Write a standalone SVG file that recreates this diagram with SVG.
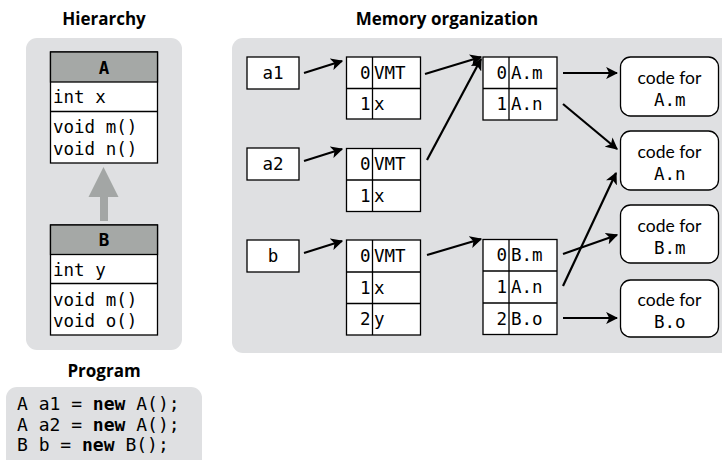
<svg xmlns="http://www.w3.org/2000/svg" width="722" height="460" viewBox="0 0 722 460">
  <style>
    .title { font-family: "Open Sans", Lato, sans-serif; font-weight: 700; font-size: 17px; text-anchor: middle; fill: #000; }
    .panel { fill: #dfe0e2; }
    .mono { font-family: "DejaVu Sans Mono", "Liberation Mono", monospace; font-size: 17.5px; fill: #000; }
    .prog { font-size: 18px; }
    .idx { text-anchor: end; }
    .mid { text-anchor: middle; }
    .bold { font-weight: 700; }
    .sans { font-family: Lato, "Open Sans", sans-serif; font-weight: 400; font-size: 17.5px; fill: #000; text-anchor: middle; }
    .box { fill: #fff; stroke: #000; stroke-width: 1.3; }
    .hdr { fill: #a5a8a6; stroke: #000; stroke-width: 1.3; }
    .sep { stroke: #000; stroke-width: 1.3; fill: none; }
    .code { fill: #fff; stroke: #000; stroke-width: 1.3; }
    .edge { stroke: #000; stroke-width: 2.2; fill: none; marker-end: url(#head); }
  </style>
  <defs>
    <marker id="head" viewBox="0 0 10 10" refX="9" refY="5" markerWidth="5.5" markerHeight="5.5" orient="auto" markerUnits="strokeWidth">
      <path d="M0,0 L10,5 L0,10 L2.5,5 z" fill="#000"/>
    </marker>
  </defs>

  <!-- section titles -->
  <text class="title" x="104" y="25">Hierarchy</text>
  <text class="title" x="447" y="25">Memory organization</text>
  <text class="title" x="104" y="377">Program</text>

  <!-- background panels -->
  <rect class="panel" x="26" y="38" width="156" height="312" rx="11"/>
  <rect class="panel" x="232" y="38" width="500" height="315" rx="11"/>
  <rect class="panel" x="6" y="387" width="196" height="90" rx="11"/>

  <!-- class hierarchy -->
  <g id="classA">
    <rect class="box" x="50.5" y="52" width="107" height="111"/>
    <rect class="hdr" x="50.5" y="52" width="107" height="30"/>
    <line class="sep" x1="50.5" y1="111.5" x2="157.5" y2="111.5"/>
    <text class="mono mid bold" x="104" y="74">A</text>
    <text class="mono" x="53" y="103">int x</text>
    <text class="mono" x="53" y="133">void m()</text>
    <text class="mono" x="53" y="155">void n()</text>
  </g>
  <g id="inherit">
    <path d="M103.5,167 L118.5,197 L108,197 L108,221 L100,221 L100,197 L88.5,197 z" fill="#a3a6a5"/>
  </g>
  <g id="classB">
    <rect class="box" x="50.5" y="225" width="107" height="110"/>
    <rect class="hdr" x="50.5" y="225" width="107" height="29.5"/>
    <line class="sep" x1="50.5" y1="283.5" x2="157.5" y2="283.5"/>
    <text class="mono mid bold" x="104" y="246">B</text>
    <text class="mono" x="53" y="276">int y</text>
    <text class="mono" x="53" y="306">void m()</text>
    <text class="mono" x="53" y="327">void o()</text>
  </g>

  <!-- program listing -->
  <g id="program">
    <text class="mono prog" x="17" y="410" xml:space="preserve">A a1 = <tspan class="bold">new</tspan> A();</text>
    <text class="mono prog" x="17" y="431" xml:space="preserve">A a2 = <tspan class="bold">new</tspan> A();</text>
    <text class="mono prog" x="17" y="451" xml:space="preserve">B b = <tspan class="bold">new</tspan> B();</text>
  </g>

  <!-- variables -->
  <g id="var-a1">
    <rect class="box" x="247" y="57" width="52" height="32"/>
    <text class="mono mid" x="273" y="79">a1</text>
  </g>
  <g id="var-a2">
    <rect class="box" x="247" y="148" width="52" height="32"/>
    <text class="mono mid" x="273" y="170">a2</text>
  </g>
  <g id="var-b">
    <rect class="box" x="247" y="240" width="52" height="32"/>
    <text class="mono mid" x="273" y="262">b</text>
  </g>

  <!-- objects -->
  <g id="obj-a1">
    <rect class="box" x="346.5" y="57" width="74" height="62"/>
    <line class="sep" x1="346.5" y1="88.5" x2="420.5" y2="88.5"/>
    <line class="sep" x1="372.5" y1="57" x2="372.5" y2="119"/>
    <text class="mono idx" x="370.5" y="79">0</text>
    <text class="mono" x="374" y="79">VMT</text>
    <text class="mono idx" x="370.5" y="110">1</text>
    <text class="mono" x="374" y="110">x</text>
  </g>
  <g id="obj-a2">
    <rect class="box" x="346.5" y="148.5" width="74" height="63"/>
    <line class="sep" x1="346.5" y1="180" x2="420.5" y2="180"/>
    <line class="sep" x1="372.5" y1="148.5" x2="372.5" y2="211.5"/>
    <text class="mono idx" x="370.5" y="170">0</text>
    <text class="mono" x="374" y="170">VMT</text>
    <text class="mono idx" x="370.5" y="202">1</text>
    <text class="mono" x="374" y="202">x</text>
  </g>
  <g id="obj-b">
    <rect class="box" x="346.5" y="240" width="74" height="95"/>
    <line class="sep" x1="346.5" y1="272" x2="420.5" y2="272"/>
    <line class="sep" x1="346.5" y1="303.5" x2="420.5" y2="303.5"/>
    <line class="sep" x1="372.5" y1="240" x2="372.5" y2="335"/>
    <text class="mono idx" x="370.5" y="262">0</text>
    <text class="mono" x="374" y="262">VMT</text>
    <text class="mono idx" x="370.5" y="294">1</text>
    <text class="mono" x="374" y="294">x</text>
    <text class="mono idx" x="370.5" y="325">2</text>
    <text class="mono" x="374" y="325">y</text>
  </g>

  <!-- virtual method tables -->
  <g id="vmt-A">
    <rect class="box" x="483" y="57" width="74" height="63"/>
    <line class="sep" x1="483" y1="88.5" x2="557" y2="88.5"/>
    <line class="sep" x1="509" y1="57" x2="509" y2="120"/>
    <text class="mono idx" x="507" y="79">0</text>
    <text class="mono" x="511" y="79">A.m</text>
    <text class="mono idx" x="507" y="110">1</text>
    <text class="mono" x="511" y="110">A.n</text>
  </g>
  <g id="vmt-B">
    <rect class="box" x="483" y="239.5" width="74" height="95"/>
    <line class="sep" x1="483" y1="271" x2="557" y2="271"/>
    <line class="sep" x1="483" y1="303" x2="557" y2="303"/>
    <line class="sep" x1="509" y1="239.5" x2="509" y2="334.5"/>
    <text class="mono idx" x="507" y="261">0</text>
    <text class="mono" x="511" y="261">B.m</text>
    <text class="mono idx" x="507" y="293">1</text>
    <text class="mono" x="511" y="293">A.n</text>
    <text class="mono idx" x="507" y="325">2</text>
    <text class="mono" x="511" y="325">B.o</text>
  </g>

  <!-- method code -->
  <g id="code-Am">
    <rect class="code" x="620.5" y="57" width="98" height="59" rx="10"/>
    <text class="sans" x="669.5" y="84">code for</text>
    <text class="mono" x="654" y="106">A.m</text>
  </g>
  <g id="code-An">
    <rect class="code" x="620.5" y="131" width="98" height="59" rx="10"/>
    <text class="sans" x="669.5" y="158">code for</text>
    <text class="mono" x="654" y="180">A.n</text>
  </g>
  <g id="code-Bm">
    <rect class="code" x="620.5" y="205" width="98" height="58" rx="10"/>
    <text class="sans" x="669.5" y="232">code for</text>
    <text class="mono" x="654" y="254">B.m</text>
  </g>
  <g id="code-Bo">
    <rect class="code" x="620.5" y="280" width="98" height="57" rx="10"/>
    <text class="sans" x="669.5" y="306">code for</text>
    <text class="mono" x="654" y="328">B.o</text>
  </g>

  <!-- references -->
  <g id="connectors">
    <line class="edge" x1="304" y1="73" x2="342" y2="61"/>
    <line class="edge" x1="304" y1="161" x2="342" y2="149"/>
    <line class="edge" x1="304" y1="253" x2="342" y2="241"/>
    <line class="edge" x1="425" y1="74" x2="481" y2="57"/>
    <line class="edge" x1="427" y1="160" x2="481" y2="59"/>
    <line class="edge" x1="427" y1="255" x2="481" y2="239"/>
    <line class="edge" x1="563" y1="73" x2="617" y2="73"/>
    <line class="edge" x1="563" y1="104" x2="617" y2="149"/>
    <line class="edge" x1="563" y1="286" x2="616" y2="173"/>
    <line class="edge" x1="563" y1="254" x2="617" y2="235"/>
    <line class="edge" x1="563" y1="318" x2="617" y2="318"/>
  </g>
</svg>
